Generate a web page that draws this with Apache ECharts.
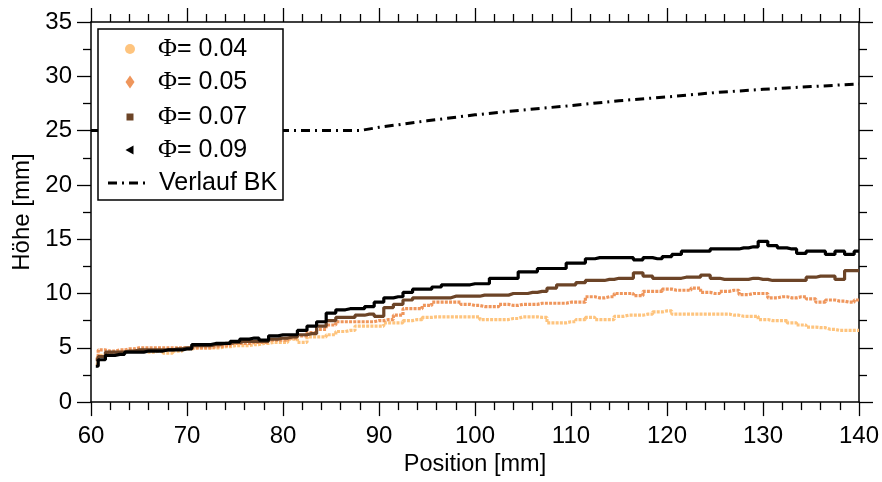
<!DOCTYPE html>
<html><head><meta charset="utf-8">
<script src="https://cdn.jsdelivr.net/npm/echarts@6/dist/echarts.min.js"></script>
<style>html,body{margin:0;padding:0;background:#fff}#c{width:882px;height:482px}</style>
</head><body><div id="c"></div>
<script>
const positions = [60.5,61,62,63,64,65,66,67,68,69,70,71,72,73,74,75,76,77,78,79,80,81,82,83,84,85,86,87,88,89,90,91,92,93,94,95,96,97,98,99,100,101,102,103,104,105,106,107,108,109,110,111,112,113,114,115,116,117,118,119,120,121,122,123,124,125,126,127,128,129,130,131,132,133,134,135,136,137,138,139,140];
const phi004 = [3.5,4.3,4.5,4.6,4.7,4.7,4.6,4.7,4.5,4.7,4.9,5.0,5.0,5.0,5.1,5.2,5.2,5.3,5.4,5.5,5.5,5.8,5.5,6.0,6.0,6.2,6.5,6.6,7.0,7.0,7.0,7.3,7.3,7.5,7.6,7.8,7.85,7.85,7.85,7.85,7.85,7.6,7.6,7.6,7.7,7.85,7.85,7.8,7.3,7.3,7.4,7.6,7.8,7.6,7.6,7.9,8.0,8.0,8.1,8.3,8.4,8.1,8.1,8.1,8.1,8.1,8.1,8.0,7.9,7.9,7.6,7.5,7.5,7.3,7.1,6.9,6.85,6.7,6.6,6.6,6.6];
const phi005 = [4.0,4.8,4.7,4.8,4.9,5.0,5.0,5.0,5.0,5.0,5.0,5.0,5.0,5.1,5.2,5.4,5.4,5.5,5.5,5.7,5.7,5.9,6.1,6.4,6.7,7.1,7.4,7.4,7.4,7.4,7.5,7.6,8.0,8.6,8.6,8.9,9.2,9.2,9.2,9.0,8.9,8.8,8.8,9.0,8.9,9.0,9.0,9.1,9.1,9.1,9.2,9.2,9.7,9.6,9.7,10.0,10.0,9.8,10.2,10.2,10.4,10.3,10.3,10.5,10.1,10.0,10.2,10.3,9.9,10.0,10.0,9.6,9.7,9.6,9.7,9.5,9.2,9.4,9.3,9.2,9.4];
const phi007 = [3.9,4.2,4.6,4.6,4.7,4.8,4.8,4.8,4.8,4.9,5.0,5.2,5.2,5.3,5.4,5.5,5.6,5.6,5.6,5.8,5.9,6.0,6.2,6.3,7.0,7.5,7.8,7.8,8.0,8.1,7.9,8.7,9.0,9.4,9.6,9.6,9.6,9.6,9.75,9.75,9.75,9.85,9.85,9.85,10.0,10.0,10.1,10.2,10.5,10.8,10.8,11.0,11.2,11.2,11.3,11.4,11.4,11.9,11.6,11.4,11.4,11.4,11.5,11.5,11.7,11.4,11.3,11.3,11.3,11.4,11.3,11.2,11.2,11.2,11.2,11.5,11.6,11.6,11.3,12.1,12.1];
const phi009 = [3.3,3.9,4.3,4.4,4.6,4.6,4.7,4.7,4.8,4.8,4.9,5.3,5.3,5.4,5.4,5.6,5.8,5.9,5.7,6.1,6.2,6.2,6.6,7.0,7.4,8.2,8.5,8.6,8.6,8.8,9.2,9.6,9.7,10.1,10.4,10.4,10.6,10.8,10.8,10.8,10.9,10.9,11.4,11.4,11.4,12.0,12.0,12.3,12.3,12.3,12.8,12.8,13.2,13.3,13.3,13.3,13.3,13.1,13.3,13.2,13.4,13.6,13.9,13.9,13.9,14.1,14.1,14.1,14.2,14.3,14.8,14.4,14.2,14.1,13.7,13.9,13.9,13.6,13.9,13.6,13.9];
const bkPositions = [60,88,90,95,100,105,110,115,120,125,130,135,140];
const bkValues = [25.0,25.0,25.3,25.9,26.45,26.9,27.3,27.75,28.1,28.5,28.8,29.05,29.3];
const seriesNames = ['Φ= 0.04','Φ= 0.05','Φ= 0.07','Φ= 0.09','Verlauf BK'];
const colors = ['#fec47e','#ef965c','#6c4427','#000000','#000000'];

const pair = (xs, ys) => xs.map((x, i) => [x, ys[i]]);
const FONT = 'Liberation Sans, Arial, sans-serif';

const chart = echarts.init(document.getElementById('c'), null, {renderer: 'canvas'});

const tickCommon = (len) => ({show: true, length: len, lineStyle: {color: '#000', width: 1.3}});
const minorCommon = (n) => ({show: true, splitNumber: n, length: 8, lineStyle: {color: '#000', width: 1.3}});
const lineCommon = {show: true, onZero: false, lineStyle: {color: '#000', width: 1.5}};

const dataSets = [phi004, phi005, phi007, phi009];
const dataSeries = dataSets.map((vals, i) => ({
  name: seriesNames[i],
  type: 'line',
  step: 'middle',
  data: pair(positions, vals),
  showSymbol: false,
  symbol: 'none',
  lineStyle: {color: colors[i], width: 3.2, type: i < 2 ? [3, 1.2] : 'solid'},
  itemStyle: {color: colors[i]},
  z: 3 + i
}));

const option = {
  backgroundColor: '#fff',
  animation: false,
  grid: {left: 91, right: 22, top: 22, bottom: 77, containLabel: false},
  xAxis: [{
    type: 'value', min: 60, max: 140, interval: 10, position: 'bottom',
    name: 'Position [mm]', nameLocation: 'middle', nameGap: 49,
    nameTextStyle: {fontFamily: FONT, fontSize: 23.5, color: '#000'},
    axisLine: lineCommon, axisTick: tickCommon(14), minorTick: minorCommon(5),
    axisLabel: {fontFamily: FONT, fontSize: 24, color: '#000', margin: 22},
    splitLine: {show: false}
  }, {
    type: 'value', min: 60, max: 140, interval: 10, position: 'top',
    axisLine: lineCommon, axisTick: tickCommon(14), minorTick: minorCommon(5),
    axisLabel: {show: false}, splitLine: {show: false}
  }],
  yAxis: [{
    type: 'value', min: 0, max: 35, interval: 5, position: 'left',
    name: 'Höhe [mm]', nameLocation: 'middle', nameGap: 57,
    nameTextStyle: {fontFamily: FONT, fontSize: 24, color: '#000'},
    axisLine: lineCommon, axisTick: tickCommon(14), minorTick: minorCommon(2),
    axisLabel: {fontFamily: FONT, fontSize: 24, color: '#000', margin: 19},
    splitLine: {show: false}
  }, {
    type: 'value', min: 0, max: 35, interval: 5, position: 'right',
    axisLine: lineCommon, axisTick: tickCommon(14), minorTick: minorCommon(2),
    axisLabel: {show: false}, splitLine: {show: false}
  }],
  series: dataSeries.concat([{
    name: seriesNames[4],
    type: 'line',
    data: pair(bkPositions, bkValues),
    showSymbol: false,
    symbol: 'none',
    lineStyle: {color: '#000', width: 3, type: [9, 5, 2, 5]},
    z: 2
  }]),
  graphic: [
    {type: 'rect', z: 100, shape: {x: 98, y: 29, width: 185, height: 171},
     style: {fill: '#fff', stroke: '#000', lineWidth: 1.5}},
    {type: 'circle', z: 101, shape: {cx: 130, cy: 49, r: 5}, style: {fill: colors[0]}},
    {type: 'polygon', z: 101, shape: {points: [[130, 75.5], [134.5, 82], [130, 88.5], [125.5, 82]]}, style: {fill: colors[1]}},
    {type: 'rect', z: 101, shape: {x: 126.5, y: 113.5, width: 7, height: 7}, style: {fill: colors[2]}},
    {type: 'polygon', z: 101, shape: {points: [[125.5, 150], [133.5, 145.5], [133.5, 154.5]]}, style: {fill: colors[3]}},
    {type: 'line', z: 101, shape: {x1: 108, y1: 183, x2: 148, y2: 183},
     style: {stroke: '#000', lineWidth: 3, lineDash: [9, 5, 2, 5]}},
    ...seriesNames.map((n, i) => ({
      type: 'text', z: 101, x: i < 4 ? 158 : 159, y: [49, 82, 117, 150, 183][i],
      style: {
        text: i < 4 ? '{p|Φ}= ' + n.split('= ')[1] : n,
        fontFamily: FONT, fontSize: 25, fill: '#000', verticalAlign: 'middle',
        rich: {p: {fontFamily: 'Liberation Serif, DejaVu Serif, serif', fontSize: 26, fill: '#000'}}
      }
    }))
  ]
};
chart.setOption(option);
</script>
</body></html>
